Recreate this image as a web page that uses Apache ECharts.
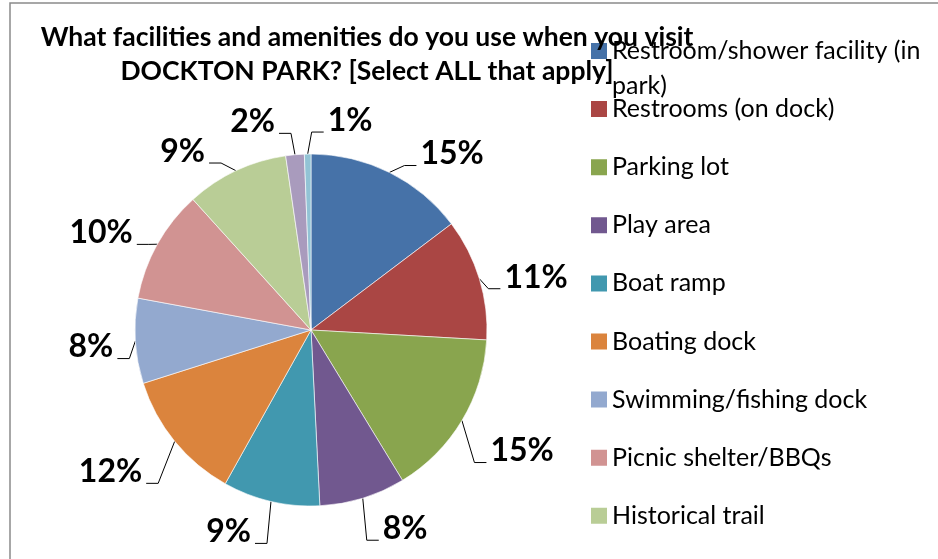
<!DOCTYPE html>
<html>
<head>
<meta charset="utf-8">
<script src="https://cdn.jsdelivr.net/npm/echarts@6.0.0/dist/echarts.min.js"></script>
<style>
  html, body { margin: 0; padding: 0; background: #fff; }
  #chart { width: 938px; height: 559px; }
</style>
</head>
<body>
<div id="chart"></div>
<script>
// ---- data ----
const titleText = 'What facilities and amenities do you use when you visit\nDOCKTON PARK? [Select ALL that apply]';
const categories = [
  'Restroom/shower facility (in park)',
  'Restrooms (on dock)',
  'Parking lot',
  'Play area',
  'Boat ramp',
  'Boating dock',
  'Swimming/fishing dock',
  'Picnic shelter/BBQs',
  'Historical trail',
  'Other',
  'None'
];
const shares = [14.7, 11.2, 15.4, 7.9, 8.9, 12.0, 7.8, 10.4, 9.4, 1.7, 0.6];
const colors = ['#4672A8', '#AA4644', '#89A54E', '#71588F', '#4198AF', '#DB843D',
                '#93A9CF', '#D19392', '#B9CD96', '#A99BBD', '#92C3D5'];

// ---- label placement rule (leader drop by direction, gap to the pie) ----
const CX = 311, CY = 330, R = 176;
const LABEL_SIZE = 32;
const GAP = 21.5, L2 = 12, TXT_GAP = 4;
const leaderDrop = [[-1, -22], [-0.9, -7], [-0.49, 0], [-0.29, 10], [0, 14], [0.5, 42], [1, 42]];

function interp(table, v) {
  if (v <= table[0][0]) return table[0][1];
  for (let i = 1; i < table.length; i++) {
    if (v <= table[i][0]) {
      const [x0, y0] = table[i - 1], [x1, y1] = table[i];
      return y0 + (y1 - y0) * (v - x0) / (x1 - x0);
    }
  }
  return table[table.length - 1][1];
}

function distToBox(x0, y0, x1, y1) {
  const qx = Math.min(Math.max(CX, x0), x1);
  const qy = Math.min(Math.max(CY, y0), y1);
  return Math.hypot(qx - CX, qy - CY);
}

function placeLabel(p) {
  const pts = p.labelLinePoints;
  if (!pts || !p.labelRect) return {};
  const a = pts[0], b = pts[1];
  let ux = b[0] - a[0], uy = b[1] - a[1];
  const n = Math.hypot(ux, uy) || 1;
  ux /= n; uy /= n;
  let side = ux < 0 ? -1 : 1;
  if (Math.abs(ux) < 0.05) { ux = Math.abs(ux); side = 1; }
  const w = p.labelRect.width;
  const capH = LABEL_SIZE * 0.72;
  const gap = GAP + 65 * Math.max(0, Math.abs(ux) * uy - 0.25);
  const ey = a[1] + interp(leaderDrop, uy);
  let ex = a[0], bx0 = 0, bx1 = 0;
  for (let t = 4; t < 200; t += 0.5) {
    ex = a[0] + side * t;
    if (side > 0) { bx0 = ex + L2 + TXT_GAP; bx1 = bx0 + w; }
    else { bx1 = ex - L2 - TXT_GAP; bx0 = bx1 - w; }
    if (distToBox(bx0, ey - capH, bx1, ey) >= R + gap) break;
  }
  const E = [ex, ey];
  const P = [ex + side * L2, ey];
  return {
    x: side > 0 ? bx0 : bx1,
    y: ey - capH / 2,
    align: side > 0 ? 'left' : 'right',
    verticalAlign: 'middle',
    labelLinePoints: [a, E, P]
  };
}

const chart = echarts.init(document.getElementById('chart'));
chart.setOption({
  animation: false,
  backgroundColor: '#fff',
  color: colors,
  title: {
    text: titleText,
    left: 367,
    top: 21,
    padding: 0,
    textAlign: 'center',
    textStyle: {
      fontFamily: 'Lato',
      fontWeight: 'bold',
      fontSize: 26.5,
      lineHeight: 33.4,
      color: '#000'
    }
  },
  legend: {
    orient: 'vertical',
    left: 591,
    top: 33.5,
    height: 1000,
    padding: 0,
    itemGap: -11.9,
    itemWidth: 16,
    itemHeight: 51,
    icon: 'path://M0,0L16,0L16,16L0,16Z M0,51L16,51',
    selectedMode: false,
    itemStyle: { borderWidth: 0 },
    formatter: function (name) {
      if (name.indexOf(' (in park)') >= 0) return name.replace(' (in park)', ' (in\npark)');
      return name + '\n ';
    },
    textStyle: {
      fontFamily: 'Lato',
      fontSize: 25,
      lineHeight: 35,
      color: '#000'
    },
    data: categories
  },
  graphic: [{
    type: 'rect',
    silent: true,
    shape: { x: 10, y: 3, width: 1200, height: 900 },
    style: { fill: 'none', stroke: '#8a8a8a', lineWidth: 1.5 }
  }],
  series: [{
    type: 'pie',
    center: [CX, CY],
    radius: R,
    startAngle: 90,
    clockwise: true,
    avoidLabelOverlap: false,
    itemStyle: { borderColor: '#ffffff', borderWidth: 0.6 },
    label: {
      show: true,
      position: 'outside',
      formatter: function (p) { return Math.round(p.percent) + '%'; },
      fontFamily: 'Lato',
      fontWeight: 'bold',
      fontSize: LABEL_SIZE,
      color: '#000'
    },
    labelLine: {
      show: true,
      length: 10,
      length2: L2,
      lineStyle: { color: '#000', width: 1 }
    },
    labelLayout: placeLabel,
    emphasis: { disabled: true },
    data: categories.map(function (name, i) { return { name: name, value: shares[i] }; })
  }]
});
</script>
</body>
</html>
